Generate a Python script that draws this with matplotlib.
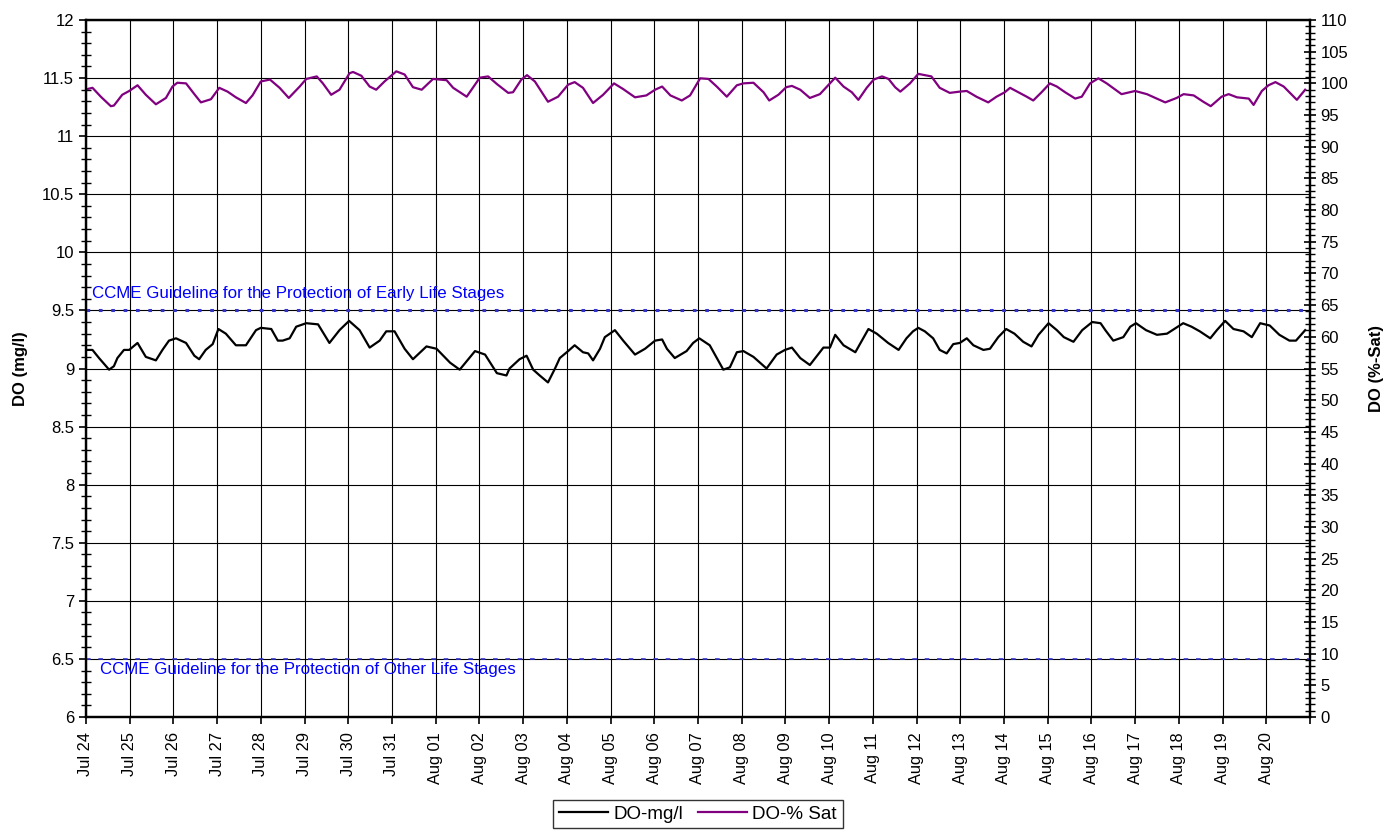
import numpy as np
import matplotlib
matplotlib.use("Agg")
import matplotlib.pyplot as plt
from matplotlib.ticker import MultipleLocator, FormatStrFormatter

plt.rcParams['font.family'] = ['Liberation Sans', 'DejaVu Sans']

start = np.datetime64('2008-07-24T00:00')

# DO in mg/l: time offset (days from Jul 24) and value
mg_days = [0.03, 0.15, 0.30, 0.53, 0.64, 0.72, 0.87, 0.99, 1.18, 1.37, 1.60, 1.75, 1.90, 2.06,
           2.29, 2.48, 2.59, 2.74, 2.90, 3.03, 3.20, 3.43, 3.66, 3.89, 4.00, 4.24, 4.39, 4.50,
           4.66, 4.81, 5.04, 5.31, 5.57, 5.80, 6.02, 6.26, 6.49, 6.72, 6.87, 7.06, 7.29, 7.48,
           7.79, 8.02, 8.33, 8.55, 8.90, 9.13, 9.40, 9.62, 9.69, 9.92, 10.08, 10.23, 10.38,
           10.57, 10.73, 10.84, 11.03, 11.18, 11.37, 11.49, 11.60, 11.76, 11.87, 12.10, 12.29,
           12.56, 12.79, 13.02, 13.18, 13.29, 13.47, 13.74, 13.89, 14.03, 14.27, 14.58, 14.73,
           14.89, 15.04, 15.27, 15.57, 15.80, 15.99, 16.15, 16.34, 16.56, 16.87, 17.02, 17.14,
           17.33, 17.60, 17.90, 18.09, 18.35, 18.59, 18.77, 18.92, 19.04, 19.19, 19.38, 19.53,
           19.69, 19.84, 19.99, 20.15, 20.30, 20.53, 20.68, 20.87, 21.05, 21.24, 21.44, 21.63,
           21.79, 22.02, 22.21, 22.37, 22.59, 22.79, 23.02, 23.21, 23.32, 23.50, 23.73, 23.89,
           24.02, 24.25, 24.50, 24.73, 25.10, 25.29, 25.48, 25.72, 25.87, 26.06, 26.25, 26.48,
           26.67, 26.86, 27.08, 27.30, 27.53, 27.68, 27.89]
mg_vals = [9.16, 9.16, 9.09, 8.99, 9.02, 9.09, 9.16, 9.16, 9.22, 9.10, 9.07, 9.16, 9.24, 9.26,
           9.22, 9.11, 9.08, 9.16, 9.21, 9.34, 9.30, 9.20, 9.20, 9.33, 9.35, 9.34, 9.24, 9.24,
           9.26, 9.36, 9.39, 9.38, 9.22, 9.33, 9.41, 9.33, 9.18, 9.24, 9.32, 9.32, 9.17, 9.08,
           9.19, 9.17, 9.05, 8.99, 9.15, 9.12, 8.96, 8.94, 9.00, 9.08, 9.11, 8.99, 8.94,
           8.88, 9.00, 9.09, 9.15, 9.20, 9.14, 9.13, 9.07, 9.17, 9.27, 9.33, 9.24,
           9.12, 9.17, 9.24, 9.25, 9.17, 9.09, 9.15, 9.22, 9.26, 9.20, 8.99, 9.01,
           9.14, 9.15, 9.10, 9.00, 9.12, 9.16, 9.18, 9.09, 9.03, 9.18, 9.18, 9.29,
           9.20, 9.14, 9.34, 9.30, 9.22, 9.16, 9.26, 9.32, 9.35, 9.32, 9.26, 9.16,
           9.13, 9.21, 9.22, 9.26, 9.20, 9.16, 9.17, 9.27, 9.34, 9.30, 9.23, 9.19,
           9.29, 9.39, 9.33, 9.27, 9.23, 9.33, 9.40, 9.39, 9.33, 9.24, 9.27, 9.36,
           9.39, 9.33, 9.29, 9.30, 9.39, 9.36, 9.32, 9.26, 9.33, 9.41, 9.34, 9.32,
           9.27, 9.39, 9.37, 9.29, 9.24, 9.24, 9.33]

# DO in % saturation
sat_days = [0.03, 0.15, 0.34, 0.57, 0.64, 0.83, 0.99, 1.18, 1.37, 1.60, 1.83, 1.98, 2.09, 2.29,
            2.48, 2.63, 2.86, 3.05, 3.24, 3.43, 3.66, 3.81, 4.00, 4.21, 4.43, 4.64, 4.89, 5.04,
            5.28, 5.42, 5.61, 5.80, 6.03, 6.11, 6.30, 6.49, 6.64, 6.83, 7.10, 7.29, 7.48, 7.68,
            7.94, 8.25, 8.40, 8.71, 9.01, 9.20, 9.40, 9.66, 9.77, 9.96, 10.09, 10.27, 10.57,
            10.80, 11.03, 11.18, 11.37, 11.60, 11.83, 12.08, 12.29, 12.56, 12.82, 13.02, 13.18,
            13.37, 13.63, 13.82, 14.05, 14.24, 14.43, 14.66, 14.89, 15.04, 15.27, 15.50, 15.63,
            15.84, 16.02, 16.15, 16.34, 16.56, 16.79, 17.02, 17.14, 17.33, 17.52, 17.67, 17.86,
            18.02, 18.21, 18.36, 18.51, 18.63, 18.85, 19.04, 19.34, 19.53, 19.76, 19.99, 20.15,
            20.37, 20.64, 20.83, 21.02, 21.14, 21.33, 21.52, 21.67, 21.86, 22.05, 22.21, 22.40,
            22.63, 22.78, 22.97, 23.16, 23.35, 23.69, 24.00, 24.27, 24.69, 24.95, 25.11, 25.34,
            25.56, 25.73, 25.98, 26.14, 26.33, 26.60, 26.71, 26.90, 27.05, 27.21, 27.40, 27.70,
            27.89]
sat_vals = [99.1, 99.3, 97.9, 96.4, 96.5, 98.2, 98.8, 99.7, 98.2, 96.7, 97.7, 99.5, 100.1, 100.0,
            98.3, 97.0, 97.5, 99.3, 98.7, 97.8, 96.9, 98.1, 100.3, 100.6, 99.3, 97.7, 99.5, 100.7,
            101.1, 100.0, 98.2, 99.0, 101.6, 101.8, 101.2, 99.5, 99.0, 100.3, 101.9, 101.4, 99.4, 99.0,
            100.7, 100.5, 99.3, 97.9, 100.9, 101.1, 99.9, 98.5, 98.6, 100.6, 101.3, 100.3, 97.1,
            97.9, 99.8, 100.2, 99.3, 96.9, 98.2, 100.0, 99.1, 97.8, 98.1, 99.0, 99.5,
            98.1, 97.3, 98.1, 100.8, 100.7, 99.5, 97.9, 99.7, 100.0, 100.1, 98.6, 97.3,
            98.2, 99.4, 99.6, 99.0, 97.7, 98.3, 100.0, 100.9, 99.5, 98.6, 97.4, 99.3,
            100.6, 101.1, 100.7, 99.4, 98.7, 100.0, 101.5, 101.1, 99.3, 98.5, 98.7, 98.8,
            97.9, 97.0, 97.9, 98.6, 99.3, 98.6, 97.9, 97.3, 98.6, 100.0, 99.5, 98.6,
            97.6, 97.9, 100.0, 100.8, 100.0, 98.3, 98.8, 98.3, 97.0, 97.7, 98.3, 98.1,
            97.1, 96.4, 97.9, 98.3, 97.8, 97.6, 96.6, 98.8, 99.7, 100.2, 99.5, 97.4,
            99.0]

early_stage = 9.5
other_stage = 6.5


def to_time(days):
    return start + (np.array(days) * 24 * 60).astype('timedelta64[m]')


fig = plt.figure(figsize=(13.93, 8.34), dpi=100)
ax = fig.add_axes([0.0617, 0.1403, 0.8787, 0.8357])
ax2 = ax.twinx()

ax.plot(to_time(mg_days), mg_vals, color='black', lw=1.6, label='DO-mg/l')
ax2.plot(to_time(sat_days), sat_vals, color='#800080', lw=1.6, label='DO-% Sat')

# guideline lines (black grid line underneath, blue dashes on top)
ax.axhline(early_stage, color='#3333cc', lw=2.2, ls=(0, (1.2, 2.85)), zorder=3)
ax.axhline(other_stage, color='#3333cc', lw=1.2, ls=(0, (2.8, 4.6)), zorder=3)
ax.text(to_time([0.14])[0], early_stage + 0.08, 'CCME Guideline for the Protection of Early Life Stages',
        color='#0000ff', fontsize=12.2, va='bottom')
ax.text(to_time([0.32])[0], other_stage - 0.03, 'CCME Guideline for the Protection of Other Life Stages',
        color='#0000ff', fontsize=12.2, va='top')

ax.set_ylim(6, 12)
ax.yaxis.set_major_locator(MultipleLocator(0.5))
ax.yaxis.set_minor_locator(MultipleLocator(0.1))
ax.yaxis.set_major_formatter(FormatStrFormatter('%g'))
ax2.set_ylim(0, 110)
ax2.yaxis.set_major_locator(MultipleLocator(5))
ax2.yaxis.set_minor_locator(MultipleLocator(1))

day_ticks = to_time(list(range(29)))
ax.set_xlim(day_ticks[0], day_ticks[-1])
ax.set_xticks(day_ticks)
labels = [str(np.datetime_as_string(d, unit='D')) for d in day_ticks]
month_names = {'07': 'Jul', '08': 'Aug'}
labels = [month_names[s[5:7]] + ' ' + s[8:10] for s in labels]
labels[-1] = ''
ax.set_xticklabels(labels, rotation=90, fontsize=11.8)

ax.grid(True, which='major', color='black', lw=0.8)
ax.tick_params(axis='y', which='major', direction='out', length=5, width=1.2, labelsize=12)
ax.tick_params(axis='y', which='minor', direction='inout', length=7, width=1.0)
ax.tick_params(axis='x', which='major', direction='out', length=5, width=1.2, pad=6)
ax2.tick_params(axis='y', which='major', direction='inout', length=8, width=1.2, labelsize=12)
ax2.tick_params(axis='y', which='minor', direction='inout', length=7, width=1.0)

for a in (ax, ax2):
    for s in a.spines.values():
        s.set_linewidth(1.6)

ax.set_ylabel('DO (mg/l)', fontsize=12, fontweight='bold', labelpad=10)
ax2.set_ylabel('DO (%-Sat)', fontsize=12, fontweight='bold', rotation=90, labelpad=15)

h1, l1 = ax.get_legend_handles_labels()
h2, l2 = ax2.get_legend_handles_labels()
leg = fig.legend(h1 + h2, l1 + l2, loc='upper center', bbox_to_anchor=(0.501, 0.052), ncol=2,
                 fontsize=13.5, frameon=True, fancybox=False, handlelength=2.6, handletextpad=0.3,
                 columnspacing=0.8, borderpad=0.3)
leg.get_frame().set_edgecolor('black')
leg.get_frame().set_linewidth(1.0)

fig.savefig('out.png', dpi=100)
